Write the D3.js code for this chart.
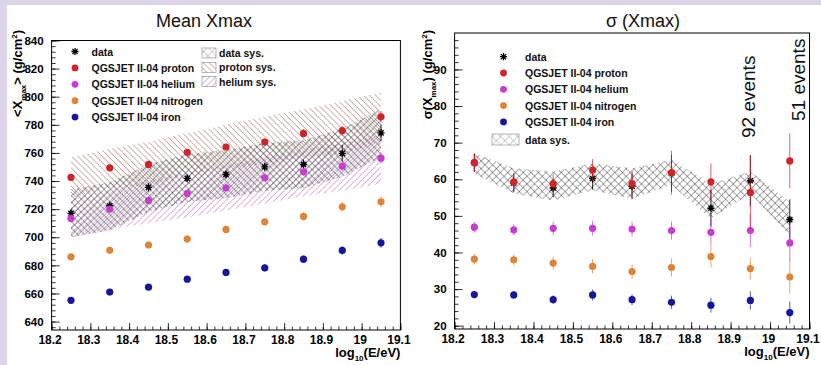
<!DOCTYPE html>
<html><head><meta charset="utf-8">
<script src="https://cdn.jsdelivr.net/npm/d3@7"></script>
<style>
html,body{margin:0;padding:0;background:#fff;}
svg{display:block;}
.nar{font-family:"Liberation Sans Narrow","Arial Narrow","Liberation Sans",Arial,sans-serif;font-weight:bold;}
.ttl{font-family:"Liberation Sans",Arial,sans-serif;}
</style></head><body>
<svg id="chart" width="821" height="365"></svg>
<script>
// energy bin centres, log10(E/eV)
const energy = [18.25, 18.35, 18.45, 18.55, 18.65, 18.75, 18.85, 18.95, 19.05];

// <Xmax> (g/cm^2)
const meanData        = [717.0, 722.4, 735.5, 741.9, 744.7, 750.1, 751.8, 759.7, 774.3];
const meanDataErr     = [3, 3, 3, 3, 3, 3, 3.5, 6, 6];
const meanProton      = [742.6, 749.4, 751.8, 760.4, 764.2, 767.7, 773.9, 775.8, 785.7];
const meanProtonErr   = [2, 2, 2, 2.5, 2.5, 2.5, 3, 3.5, 4];
const meanHelium      = [713.4, 720.0, 726.2, 731.2, 735.2, 742.3, 746.6, 750.6, 756.3];
const meanHeliumErr   = [2, 2, 2, 2.5, 2.5, 2.5, 3, 3.5, 4];
const meanNitrogen    = [686.1, 690.7, 694.4, 698.7, 705.6, 711.0, 714.8, 721.7, 725.2];
const meanNitrogenErr = [2, 2, 2, 2.5, 2.5, 2.5, 3, 3.5, 4];
const meanIron        = [655.1, 661.0, 664.5, 670.2, 675.0, 678.2, 684.4, 690.6, 696.0];
const meanIronErr     = [2, 2, 2, 2, 2, 2.5, 2.5, 3, 3.5];

// systematic bands on <Xmax>
const meanDataSysLow    = [700, 705, 718, 725, 728, 733, 735, 743, 757];
const meanDataSysHigh   = [734, 739, 752, 759, 762, 767, 769, 777, 791];
const protonSysLow      = [728, 735, 737, 745, 749, 752, 757, 759, 768];
const protonSysHigh     = [757, 763, 768, 774, 780, 786, 791, 797, 803];
const heliumSysLow      = [700, 705, 710, 714, 719, 724, 729, 733, 738];
const heliumSysHigh     = [727, 734, 740, 746, 751, 757, 762, 767, 773];

// sigma(Xmax) (g/cm^2)
const sigData        = [64.5, 59.0, 57.6, 60.2, 58.1, 61.6, 52.1, 59.6, 49.0];
const sigDataErr     = [2.5, 2.5, 2.5, 3, 3.5, 5, 5, 7, 5.5];
const sigProton      = [64.6, 59.3, 58.8, 62.5, 58.8, 61.8, 59.3, 56.4, 65.0];
const sigProtonErr   = [2.5, 2.5, 2.5, 3, 3.5, 6, 5, 10, 7.5];
const sigHelium      = [46.9, 46.2, 46.6, 46.6, 46.4, 46.0, 45.5, 46.0, 42.6];
const sigHeliumErr   = [1.5, 1.5, 1.8, 2, 2, 2.5, 3.5, 4.5, 5];
const sigNitrogen    = [38.2, 38.0, 37.1, 36.2, 34.8, 35.9, 38.9, 35.6, 33.3];
const sigNitrogenErr = [1.5, 1.5, 1.8, 2, 2, 2.5, 3, 3, 4.5];
const sigIron        = [28.5, 28.4, 27.1, 28.4, 27.1, 26.4, 25.6, 26.9, 23.6];
const sigIronErr     = [1, 1, 1.2, 1.5, 1.5, 1.8, 2, 2.5, 3];
const sigDataSysLow  = [61.6, 56.1, 54.2, 57.0, 54.7, 58.4, 49.2, 56.1, 44.6];
const sigDataSysHigh = [67.1, 63.0, 62.1, 64.3, 63.0, 65.3, 58.8, 62.1, 53.8];

const xTicks = [18.2, 18.3, 18.4, 18.5, 18.6, 18.7, 18.8, 18.9, 19.0, 19.1];
const legendModels = ["QGSJET II-04 proton", "QGSJET II-04 helium", "QGSJET II-04 nitrogen", "QGSJET II-04 iron"];
const eventNotes = [{e: 18.95, text: "92 events"}, {e: 19.05, text: "51 events"}];

const colors = {data: "#111", proton: "#d2232a", helium: "#c93ccf", nitrogen: "#de8436", iron: "#16169a"};

const svg = d3.select("#chart");
svg.append("rect").attr("width", 821).attr("height", 365).attr("fill", "#ddd4ea");
svg.append("rect").attr("x", 7).attr("y", 5).attr("width", 814).attr("height", 360).attr("fill", "#fff");

const defs = svg.append("defs");
function hatch(id, size, angle, color, width, both) {
  const p = defs.append("pattern").attr("id", id).attr("patternUnits", "userSpaceOnUse")
    .attr("width", size).attr("height", size).attr("patternTransform", `rotate(${angle})`);
  p.append("line").attr("x1", 0).attr("y1", -1).attr("x2", 0).attr("y2", size + 1)
    .attr("stroke", color).attr("stroke-width", width);
  if (both) p.append("line").attr("x1", -1).attr("y1", 0).attr("x2", size + 1).attr("y2", 0)
    .attr("stroke", color).attr("stroke-width", width);
}
hatch("hData", 4.6, 45, "#383838", 0.85, true);
hatch("hDataR", 5.4, 45, "#333", 0.85, true);
hatch("hProton", 4.3, -45, "#94594a", 0.9, false);
hatch("hHelium", 4.3, 45, "#b05ab5", 0.9, false);
hatch("hDataLeg", 6, 45, "#666", 0.6, true);

const starPath = "M0,-3.6V3.6M-3.6,0H3.6M-2.6,-2.6L2.6,2.6M-2.6,2.6L2.6,-2.6";

function drawPanel(cfg) {
  const g = svg.append("g");
  const x = d3.scaleLinear().domain([18.2, 19.1]).range(cfg.xRange);
  const y = d3.scaleLinear().domain(cfg.yDomain).range(cfg.yRange);
  const clipId = cfg.id + "clip";
  defs.append("clipPath").attr("id", clipId).append("rect")
    .attr("x", cfg.xRange[0]).attr("y", cfg.yRange[1])
    .attr("width", cfg.xRange[1] - cfg.xRange[0]).attr("height", cfg.yRange[0] - cfg.yRange[1]);
  const plot = g.append("g").attr("clip-path", `url(#${clipId})`);

  // systematic bands
  cfg.bands.forEach(b => {
    const area = d3.area().x((d, i) => x(energy[i])).y0((d, i) => y(b.low[i])).y1((d, i) => y(b.high[i]));
    plot.append("path").datum(b.low).attr("d", area).attr("fill", `url(#${b.pattern})`);
  });

  // data points (drawn underneath the model markers)
  const dg = plot.append("g");
  dg.selectAll("line").data(cfg.data).join("line")
    .attr("x1", (d, i) => x(energy[i])).attr("x2", (d, i) => x(energy[i]))
    .attr("y1", (d, i) => y(d - cfg.dataErr[i])).attr("y2", (d, i) => y(d + cfg.dataErr[i]))
    .attr("stroke", "#222").attr("stroke-width", 1);
  dg.selectAll("path").data(cfg.data).join("path")
    .attr("transform", (d, i) => `translate(${x(energy[i])},${y(d)})`)
    .attr("d", starPath).attr("stroke", "#000").attr("stroke-width", 1.4).attr("fill", "none");

  // model series: error bars and filled circles
  cfg.series.forEach(s => {
    const sg = plot.append("g");
    sg.selectAll("line").data(s.values).join("line")
      .attr("x1", (d, i) => x(energy[i])).attr("x2", (d, i) => x(energy[i]))
      .attr("y1", (d, i) => y(d - s.err[i])).attr("y2", (d, i) => y(d + s.err[i]))
      .attr("stroke", s.color).attr("stroke-width", 1).attr("opacity", 0.7);
    sg.selectAll("circle").data(s.values).join("circle")
      .attr("cx", (d, i) => x(energy[i])).attr("cy", d => y(d)).attr("r", 3.6).attr("fill", s.color);
  });

  // frame
  g.append("rect").attr("x", cfg.xRange[0]).attr("y", cfg.yRange[1])
    .attr("width", cfg.xRange[1] - cfg.xRange[0]).attr("height", cfg.yRange[0] - cfg.yRange[1])
    .attr("fill", "none").attr("stroke", "#000").attr("stroke-width", 1);

  // axes, ticks pointing inwards
  const xMinor = d3.range(18.2, 19.1001, 0.02);
  const yMinor = d3.range(cfg.yMinorStart, cfg.yDomain[1] + 1e-6, cfg.yMinorStep);
  g.append("g").attr("transform", `translate(0,${cfg.yRange[0]})`)
    .call(d3.axisBottom(x).tickValues(xMinor).tickSize(-3.5).tickFormat(""))
    .call(a => a.select(".domain").remove());
  const xa = g.append("g").attr("class", "nar").attr("transform", `translate(0,${cfg.yRange[0]})`)
    .call(d3.axisBottom(x).tickValues(xTicks).tickSizeInner(-7).tickSizeOuter(0).tickPadding(5)
      .tickFormat(d => d3.format("~g")(d)));
  xa.select(".domain").remove();
  xa.selectAll("text").attr("font-size", 12).attr("fill", "#000").attr("dx", -2);
  g.append("g").attr("transform", `translate(${cfg.xRange[0]},0)`)
    .call(d3.axisLeft(y).tickValues(yMinor).tickSize(-4).tickFormat(""))
    .call(a => a.select(".domain").remove());
  const ya = g.append("g").attr("class", "nar").attr("transform", `translate(${cfg.xRange[0]},0)`)
    .call(d3.axisLeft(y).tickValues(cfg.yTicks).tickSizeInner(-8).tickSizeOuter(0).tickPadding(8));
  ya.select(".domain").remove();
  ya.selectAll("text").attr("font-size", 11.5).attr("fill", "#000");
  g.selectAll(".tick line").attr("stroke", "#000").attr("stroke-width", 0.8);

  // axis titles
  const xt = g.append("text").attr("class", "nar").attr("x", cfg.xRange[1]).attr("y", cfg.yRange[0] + 27)
    .attr("text-anchor", "end").attr("font-size", 13);
  xt.append("tspan").text("log");
  xt.append("tspan").attr("font-size", 8).attr("dy", 4).text("10");
  xt.append("tspan").attr("dy", -4).text("(E/eV)");

  const yt = g.append("text").attr("class", "nar").attr("font-size", 13).attr("text-anchor", "end")
    .attr("transform", `translate(${cfg.yTitleX},${cfg.yTitleTop}) rotate(-90)`);
  yt.append("tspan").text(cfg.yTitlePre);
  yt.append("tspan").attr("font-size", 8).attr("dy", 4).text("max");
  yt.append("tspan").attr("dy", -4).text(cfg.yTitlePost);
  yt.append("tspan").attr("font-size", 8).attr("dy", -5).text("2");
  yt.append("tspan").attr("dy", 5).text(")");

  // panel title
  g.append("text").attr("class", "ttl").attr("x", cfg.titleX).attr("y", 27).attr("text-anchor", "middle")
    .attr("font-size", 18).attr("fill", "#111").text(cfg.title);

  return {g, x, y};
}

// legend rows
function legendMarkers(g, mx, tx, y0, dy) {
  const rows = [{label: "data", key: "data"}].concat(
    legendModels.map((m, i) => ({label: m, key: ["proton", "helium", "nitrogen", "iron"][i]})));
  rows.forEach((r, i) => {
    const yy = y0 + i * dy;
    if (r.key === "data") g.append("path").attr("d", starPath).attr("transform", `translate(${mx},${yy})`)
      .attr("stroke", "#000").attr("stroke-width", 1.3).attr("fill", "none");
    else g.append("circle").attr("cx", mx).attr("cy", yy).attr("r", 3.4).attr("fill", colors[r.key]);
    g.append("text").attr("class", "nar").attr("x", tx).attr("y", yy + 4).attr("font-size", 10.5)
      .attr("fill", "#111").text(r.label);
  });
}

// ---- left panel: <Xmax>
const left = drawPanel({
  id: "mean", xRange: [51.6, 400.4], yDomain: [634, 840], yRange: [330, 40.5],
  yTicks: d3.range(640, 841, 20), yMinorStart: 636, yMinorStep: 4,
  bands: [
    {low: protonSysLow, high: protonSysHigh, pattern: "hProton"},
    {low: heliumSysLow, high: heliumSysHigh, pattern: "hHelium"},
    {low: meanDataSysLow, high: meanDataSysHigh, pattern: "hData"}
  ],
  series: [
    {values: meanIron, err: meanIronErr, color: colors.iron},
    {values: meanNitrogen, err: meanNitrogenErr, color: colors.nitrogen},
    {values: meanHelium, err: meanHeliumErr, color: colors.helium},
    {values: meanProton, err: meanProtonErr, color: colors.proton}
  ],
  data: meanData, dataErr: meanDataErr,
  yTitleX: 22, yTitleTop: 30, yTitlePre: "<X", yTitlePost: "> (g/cm",
  title: "Mean Xmax", titleX: 204
});
legendMarkers(left.g, 75, 91.5, 51.5, 16.4);
[["hDataLeg", "data sys."], ["hProton", "proton sys."], ["hHelium", "helium sys."]].forEach((d, i) => {
  const yy = 53 + i * 14.3;
  left.g.append("rect").attr("x", 202).attr("y", yy - 5).attr("width", 14).attr("height", 10)
    .attr("fill", `url(#${d[0]})`).attr("stroke", "#888").attr("stroke-width", 0.6);
  left.g.append("text").attr("class", "nar").attr("x", 219).attr("y", yy + 4).attr("font-size", 10.5)
    .attr("fill", "#111").text(d[1]);
});

// ---- right panel: sigma(Xmax)
const right = drawPanel({
  id: "sig", xRange: [454.6, 809.5], yDomain: [19.1, 99.95], yRange: [329, 33],
  yTicks: d3.range(20, 91, 10), yMinorStart: 20, yMinorStep: 2,
  bands: [{low: sigDataSysLow, high: sigDataSysHigh, pattern: "hDataR"}],
  series: [
    {values: sigIron, err: sigIronErr, color: colors.iron},
    {values: sigNitrogen, err: sigNitrogenErr, color: colors.nitrogen},
    {values: sigHelium, err: sigHeliumErr, color: colors.helium},
    {values: sigProton, err: sigProtonErr, color: colors.proton}
  ],
  data: sigData, dataErr: sigDataErr,
  yTitleX: 432, yTitleTop: 30, yTitlePre: "σ(X", yTitlePost: ") (g/cm",
  title: "σ (Xmax)", titleX: 643
});
legendMarkers(right.g, 503.5, 525, 56.7, 16.3);
right.g.append("rect").attr("x", 492).attr("y", 134).attr("width", 27).attr("height", 11)
  .attr("fill", "url(#hDataLeg)").attr("stroke", "#888").attr("stroke-width", 0.6);
right.g.append("text").attr("class", "nar").attr("x", 525).attr("y", 143.7).attr("font-size", 10.5)
  .attr("fill", "#111").text("data sys.");

// event counts in the last two bins
eventNotes.forEach((n, i) => {
  right.g.append("text").attr("class", "ttl").attr("font-size", 19).attr("fill", "#111")
    .attr("transform", `translate(${right.x(n.e) + (i === 0 ? 5 : 15)},${i === 0 ? 138 : 121}) rotate(-90)`)
    .text(n.text);
});
</script></body></html>
